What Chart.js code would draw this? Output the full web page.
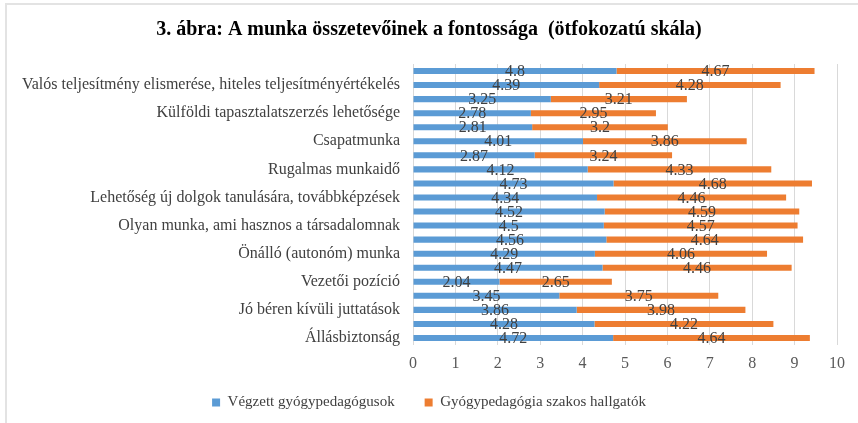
<!DOCTYPE html>
<html>
<head>
<meta charset="utf-8">
<script src="https://cdn.jsdelivr.net/npm/chart.js@4/dist/chart.umd.min.js"></script>
<style>
    html, body { margin: 0; padding: 0; background: #fff; }
    #wrap { position: relative; width: 858px; height: 423px; }
    #frame { position: absolute; left: 5px; top: 3px; width: 860px; height: 430px;
             border-left: 2px solid #e3e3e3; border-top: 2px solid #e3e3e3; }
    canvas { position: absolute; left: 0; top: 0; }
</style>
</head>
<body>
<div id="wrap">
    <div id="frame"></div>
    <canvas id="myChart" width="858" height="423"></canvas>
</div>
<script>
// categories, top to bottom (only every other one is labelled in the picture)
let categories = [
    "", "Valós teljesítmény elismerése, hiteles teljesítményértékelés",
    "", "Külföldi tapasztalatszerzés lehetősége",
    "", "Csapatmunka",
    "", "Rugalmas munkaidő",
    "", "Lehetőség új dolgok tanulására, továbbképzések",
    "", "Olyan munka, ami hasznos a társadalomnak",
    "", "Önálló (autonóm) munka",
    "", "Vezetői pozíció",
    "", "Jó béren kívüli juttatások",
    "", "Állásbiztonság"
];
let graduates = [4.8, 4.39, 3.25, 2.78, 2.81, 4.01, 2.87, 4.12, 4.73, 4.34,
                 4.52, 4.5, 4.56, 4.29, 4.47, 2.04, 3.45, 3.86, 4.28, 4.72];
let students = [4.67, 4.28, 3.21, 2.95, 3.2, 3.86, 3.24, 4.33, 4.68, 4.46,
                4.59, 4.57, 4.64, 4.06, 4.46, 2.65, 3.75, 3.98, 4.22, 4.64];
let seriesNames = ["Végzett gyógypedagógusok", "Gyógypedagógia szakos hallgatók"];
let xTicks = [0, 1, 2, 3, 4, 5, 6, 7, 8, 9, 10];
let titleText = "3. ábra: A munka összetevőinek a fontossága  (ötfokozatú skála)";

let blue = "#5B9BD5";
let orange = "#ED7D31";
let serif = "'Liberation Serif', 'DejaVu Serif', serif";

// draws the value of every bar in its middle
let valueLabels = {
    id: "valueLabels",
    afterDatasetsDraw: function(chart) {
        let ctx = chart.ctx;
        ctx.save();
        ctx.font = "16px " + serif;
        ctx.fillStyle = "#404040";
        ctx.textAlign = "center";
        ctx.textBaseline = "middle";
        chart.data.datasets.forEach((ds, i) => {
            chart.getDatasetMeta(i).data.forEach((bar, j) => {
                let cx = (bar.x + bar.base) / 2;
                ctx.fillText(String(ds.data[j]), cx, bar.y + 1);
            });
        });
        ctx.restore();
    }
};

// wide legend padding makes the legend box tall, move it up a bit
let legendShift = {
    id: "legendShift",
    afterLayout: function(chart) {
        chart.legend.top -= 18;
        chart.legend.bottom -= 18;
    }
};

let ctx = document.getElementById("myChart").getContext("2d");
let chartGraph = new Chart(ctx, {
    type: "bar",
    data: {
        labels: categories,
        datasets: [
            { label: seriesNames[0], data: graduates, backgroundColor: blue,
              barPercentage: 0.86, categoryPercentage: 0.5 },
            { label: seriesNames[1], data: students, backgroundColor: orange,
              barPercentage: 0.86, categoryPercentage: 0.5 }
        ]
    },
    options: {
        indexAxis: "y",
        responsive: false,
        animation: false,
        layout: { padding: { left: 21, right: 21, top: 0, bottom: -15 } },
        scales: {
            x: {
                stacked: true,
                min: 0,
                max: 10,
                afterBuildTicks: function(scale) {
                    scale.ticks = xTicks.map(v => ({ value: v }));
                },
                grid: { color: "#d9d9d9", drawTicks: false },
                border: { display: false },
                ticks: {
                    font: { family: serif, size: 16 },
                    color: "#595959",
                    padding: 9
                },
                afterFit: function(scale) { scale.height = 38; }
            },
            y: {
                stacked: true,
                grid: { display: false, drawTicks: false },
                border: { display: false },
                ticks: {
                    autoSkip: false,
                    font: { family: serif, size: 16 },
                    color: "#404040",
                    padding: 13
                },
                afterFit: function(scale) { scale.width = 392; }
            }
        },
        plugins: {
            title: {
                display: true,
                text: titleText,
                font: { family: serif, size: 20, weight: "bold" },
                color: "#000",
                padding: { top: 18, bottom: 22 }
            },
            legend: {
                position: "bottom",
                labels: {
                    font: { family: serif, size: 15 },
                    color: "#404040",
                    boxWidth: 8,
                    boxHeight: 8,
                    padding: 30
                }
            },
            tooltip: { enabled: false }
        }
    },
    plugins: [valueLabels, legendShift]
});
</script>
</body>
</html>
